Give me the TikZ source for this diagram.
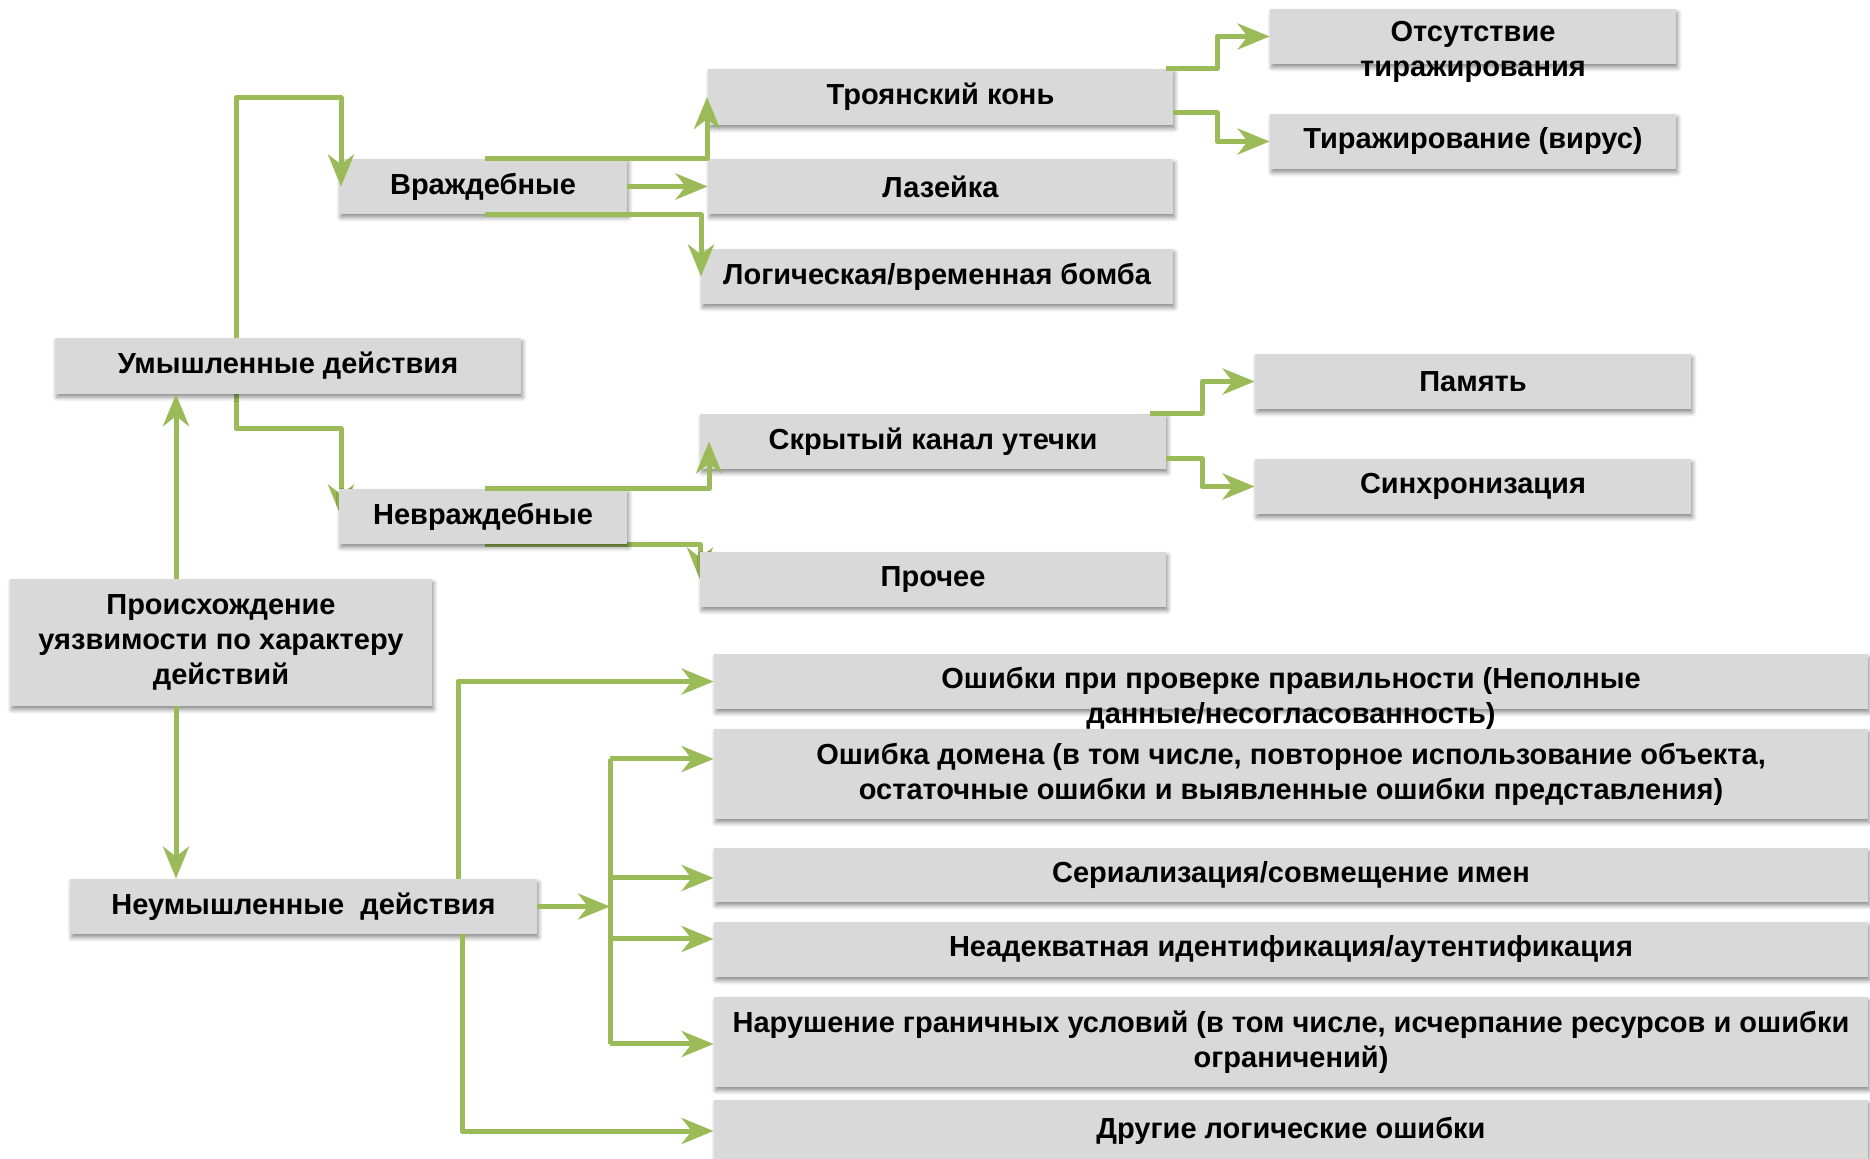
\documentclass[tikz,border=0pt]{standalone}
\usepackage{fontspec}
\setmainfont{Liberation Sans}
\usetikzlibrary{arrows.meta,shadows.blur,backgrounds,calc}
\definecolor{boxgray}{HTML}{D9D9D9}
\definecolor{leaf}{HTML}{9BBB59}
\begin{document}
\begin{tikzpicture}[x=0.5pt,y=-0.5pt,
  box/.style={fill=boxgray, inner sep=0pt, align=center,
    font=\fontsize{14.5}{17.4}\selectfont\bfseries,
    blur shadow={shadow xshift=0.8pt, shadow yshift=-1.8pt, shadow blur steps=5, shadow opacity=45}},
  lbl/.style={inner sep=0pt, align=center, font=\fontsize{14.5}{17.4}\selectfont\bfseries},
  leafline/.style={draw=leaf, line width=2.5pt, line join=round},
  arr/.style={leafline, -{Stealth[length=16pt, width=13pt, inset=5pt]}}
]
\useasboundingbox (0,0) rectangle (1870,1159);

% boxes
\node[box, minimum width=203pt, minimum height=27.5pt] (otsut) at (1473,36.5) {};
\node[box, minimum width=232.5pt, minimum height=28pt] (troj) at (940.5,97) {Троянский конь};
\node[box, minimum width=203pt, minimum height=27.5pt] (tir) at (1473,141.5) {Тиражирование (вирус)};
\node[box, minimum width=144pt, minimum height=27.5pt] (vr) at (483,186.5) {Враждебные};
\node[box, minimum width=232.5pt, minimum height=27.5pt] (laz) at (940.5,186.5) {Лазейка};
\node[box, minimum width=236pt, minimum height=27.5pt] (log) at (937,276.5) {Логическая/временная бомба};
\node[box, minimum width=233pt, minimum height=27.75pt] (um) at (288,366) {Умышленные действия};
\node[box, minimum width=218pt, minimum height=27.5pt] (pam) at (1473,381.5) {Память};
\node[box, minimum width=233pt, minimum height=27.5pt] (skr) at (933,441.5) {Скрытый канал утечки};
\node[box, minimum width=218pt, minimum height=27.5pt] (sin) at (1473,486.5) {Синхронизация};
\node[box, minimum width=144pt, minimum height=27.5pt] (nevr) at (483,516.5) {Невраждебные};
\node[box, minimum width=233pt, minimum height=27.5pt] (pro) at (933,579.5) {Прочее};
\node[box, minimum width=211pt, minimum height=63.5pt] (orig) at (221,642.5) {Происхождение\\уязвимости по характеру\\действий};
\node[box, minimum width=233.5pt, minimum height=27.5pt] (neum) at (303.5,906.5) {Неумышленные\ \ действия};
\node[box, minimum width=577pt, minimum height=27.5pt] (b1) at (1291,681.5) {};
\node[box, minimum width=577pt, minimum height=45pt] (b2) at (1291,774) {Ошибка домена (в том числе, повторное использование объекта,\\остаточные ошибки и выявленные ошибки представления)};
\node[box, minimum width=577pt, minimum height=27pt] (b3) at (1291,875) {Сериализация/совмещение имен};
\node[box, minimum width=577pt, minimum height=27.5pt] (b4) at (1291,949.5) {Неадекватная идентификация/аутентификация};
\node[box, minimum width=577pt, minimum height=45pt] (b5) at (1291,1042) {Нарушение граничных условий (в том числе, исчерпание ресурсов и ошибки\\ограничений)};
\node[box, minimum width=577pt, minimum height=31pt] (b6) at (1291,1131) {Другие логические ошибки};

% overflowing texts
\node[lbl] (otsutT) at (1473,52) {Отсутствие\\тиражирования};
\node[lbl] (b1T) at (1291,698.5) {Ошибки при проверке правильности (Неполные\\данные/несогласованность)};

% connectors drawn behind boxes
\begin{scope}[on background layer]
\draw[arr] (236,0 |- um.south) -- (236,429) -- (341,429) -- (341,0 |- nevr.west);
\draw[arr] (485,0 |- nevr.south) -- (700,0 |- nevr.south) -- (700,0 |- pro.west);
\end{scope}

% connectors
\draw[arr] (176,0 |- orig.north) -- (176,0 |- um.south);
\draw[arr] (176,0 |- orig.south) -- (176,0 |- neum.north);
\draw[arr] (236,0 |- um.north) -- (236,98) -- (341,98) -- (341,0 |- vr.west);
\draw[arr] (485,0 |- vr.north) -- (707,0 |- vr.north) -- (707,0 |- troj.west);
\draw[arr] (vr.east) -- (laz.west);
\draw[arr] (485,0 |- vr.south) -- (701,0 |- vr.south) -- (701,0 |- log.west);
\draw[arr] (485,0 |- nevr.north) -- (709,0 |- nevr.north) -- (709,0 |- skr.west);

\draw[arr] (1166,0 |- troj.north) -- (1217,0 |- troj.north) -- (1217,0 |- otsut.west) -- (otsut.west);
\draw[arr] (troj.east |- 0,113) -- (1217,113) -- (1217,0 |- tir.west) -- (tir.west);
\draw[arr] (1150,0 |- skr.north) -- (1202,0 |- skr.north) -- (1202,0 |- pam.west) -- (pam.west);
\draw[arr] (skr.east |- 0,459) -- (1202,459) -- (1202,0 |- sin.west) -- (sin.west);

\coordinate (tr) at (610,906.5);
\draw[arr] (neum.east) -- (tr);
\draw[leafline] (tr |- 0,759) -- (tr |- 0,1044);
\draw[arr] (tr |- 0,759) -- (b2.west |- 0,759);
\draw[arr] (tr |- 0,878) -- (b3.west |- 0,878);
\draw[arr] (tr |- 0,939) -- (b4.west |- 0,939);
\draw[arr] (tr |- 0,1044) -- (b5.west |- 0,1044);
\draw[arr] (458,0 |- neum.north) |- (b1.west);
\draw[arr] (462,0 |- neum.south) |- (b6.west);
\end{tikzpicture}
\end{document}
